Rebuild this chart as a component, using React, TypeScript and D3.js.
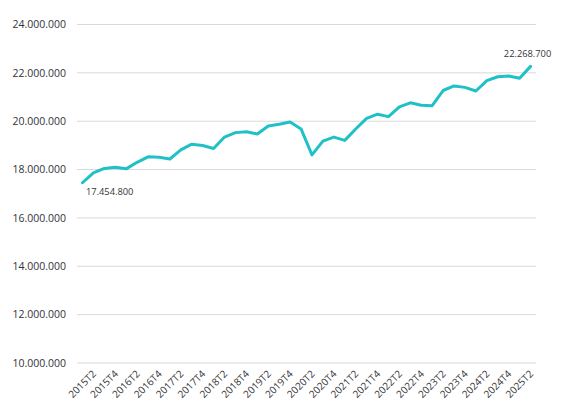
import React from "react";
import * as d3 from "d3";

const quarters: string[] = [
  "2015T1","2015T2","2015T3","2015T4",
  "2016T1","2016T2","2016T3","2016T4",
  "2017T1","2017T2","2017T3","2017T4",
  "2018T1","2018T2","2018T3","2018T4",
  "2019T1","2019T2","2019T3","2019T4",
  "2020T1","2020T2","2020T3","2020T4",
  "2021T1","2021T2","2021T3","2021T4",
  "2022T1","2022T2","2022T3","2022T4",
  "2023T1","2023T2","2023T3","2023T4",
  "2024T1","2024T2","2024T3","2024T4",
  "2025T1","2025T2",
];

const employed: number[] = [
  17454800, 17866500, 18048700, 18094200,
  18029600, 18301000, 18527500, 18508100,
  18438300, 18813300, 19049200, 18998400,
  18874200, 19344100, 19528000, 19564600,
  19471100, 19804900, 19874300, 19966900,
  19681300, 18607200, 19176900, 19344300,
  19206800, 19680000, 20120000, 20290000,
  20190000, 20590000, 20760000, 20660000,
  20640000, 21270000, 21460000, 21400000,
  21250000, 21680000, 21840000, 21870000,
  21780000, 22268700,
];

const yTicks: number[] = [10000000, 12000000, 14000000, 16000000, 18000000, 20000000, 22000000, 24000000];

const xTickLabels: string[] = quarters.filter((q) => q.endsWith("T2") || q.endsWith("T4"));

const fmt = (v: number) => d3.format(",")(v).replace(/,/g, ".");

export default function App() {
  const W = 567;
  const H = 417;
  const x = d3.scaleBand<string>().domain(quarters).range([77, 536]).padding(0);
  const cx = (q: string) => (x(q) as number) + x.bandwidth() / 2;
  const y = d3.scaleLinear().domain([10000000, 24000000]).range([363, 24.5]);

  const line = d3
    .line<number>()
    .x((_, i) => cx(quarters[i]))
    .y((d) => y(d));

  const font = "'Open Sans', 'Liberation Sans', sans-serif";
  const textColor = "#333338";
  const first = employed[0];
  const last = employed[employed.length - 1];
  const firstQ = quarters[0];
  const lastQ = quarters[quarters.length - 1];

  return (
    <svg
      width={W}
      height={H}
      style={{ position: "absolute", left: 0, top: 0, background: "#fff" }}
      fontFamily={font}
    >
      <rect x={0} y={0} width={W} height={H} fill="#fff" />
      {yTicks.map((t) => (
        <g key={t}>
          <line x1={77} x2={536} y1={y(t)} y2={y(t)} stroke="#d9d9d9" strokeWidth={1} />
          <text
            x={66}
            y={y(t)}
            dy="0.36em"
            textAnchor="end"
            fontSize={10.5}
            fill={textColor}
          >
            {fmt(t)}
          </text>
        </g>
      ))}
      {xTickLabels.map((q) => (
        <text
          key={q}
          transform={`translate(${cx(q) + 1},${372}) rotate(-45)`}
          textAnchor="end"
          dy="0.35em"
          fontSize={10}
          fill={textColor}
        >
          {q}
        </text>
      ))}
      <path
        d={line(employed) || ""}
        fill="none"
        stroke="#1fc1c6"
        strokeWidth={3}
        strokeLinejoin="round"
        strokeLinecap="round"
      />
      <text x={cx(firstQ) + 3.5} y={y(first) + 12} fontSize={9.3} fill={textColor}>
        {fmt(first)}
      </text>
      <text x={cx(lastQ) - 3} y={y(last) - 9} textAnchor="middle" fontSize={9.3} fill={textColor}>
        {fmt(last)}
      </text>
    </svg>
  );
}
